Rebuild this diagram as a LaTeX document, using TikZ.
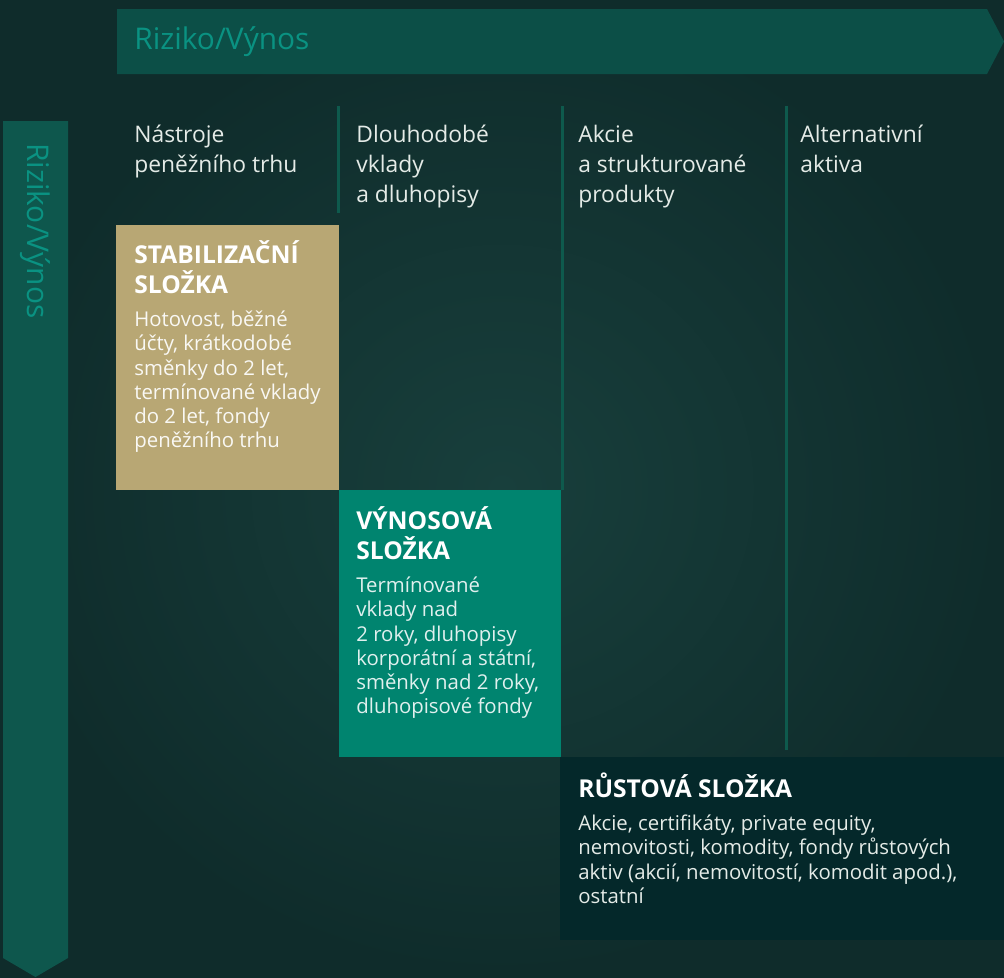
\documentclass[tikz,border=0pt]{standalone}
\usepackage{fontspec}
\setmainfont{Open Sans}
\usetikzlibrary{positioning}

\definecolor{bgdark}{HTML}{0F2C2B}
\definecolor{bgmid}{HTML}{183F3C}
\definecolor{arrfill}{HTML}{0C4F47}
\definecolor{arrleft}{HTML}{0E574D}
\definecolor{arrtxt}{HTML}{0A9282}
\definecolor{sepcol}{HTML}{0E5A4D}
\definecolor{stabcol}{HTML}{B8A774}
\definecolor{vyncol}{HTML}{00846F}
\definecolor{rustcol}{HTML}{04282A}
\definecolor{headtxt}{HTML}{E4EBE7}

\begin{document}
\begin{tikzpicture}[x=0.02cm,y=-0.02cm,
    hdr/.style={anchor=north west,inner sep=0pt,align=left,text=headtxt,
      font=\fontsize{13}{17}\selectfont},
    ttl/.style={anchor=north west,inner sep=0pt,align=left,text=white,
      font=\bfseries\fontsize{14}{17}\selectfont},
    txt/.style={anchor=north west,inner sep=0pt,align=left,text=headtxt,
      font=\fontsize{11.6}{13.8}\selectfont},
    box/.style={anchor=north west,inner sep=0pt,draw=none},
    lbl/.style={anchor=west,inner sep=0pt,text=arrtxt,font=\fontsize{17}{20}\selectfont},
    sep/.style={draw=sepcol,line width=0.06cm}]
  \useasboundingbox (0,0) rectangle (1004,977);
  \shade[inner color=bgmid,outer color=bgdark] (0,0) rectangle (1004,977);

  % arrows
  \fill[arrfill] (117,9) -- (987,9) -- (1004,41.5) -- (987,74) -- (117,74) -- cycle;
  \node[lbl] (topLbl) at (134,41.5) {Riziko/Výnos};
  \fill[arrleft] (3,121) -- (68,121) -- (68,958) -- (35.5,977) -- (3,958) -- cycle;
  \node[lbl,rotate=-90] (leftLbl) at (35.5,143) {Riziko/Výnos};

  % columns
  \draw[sep] (338,106) -- (338,213);
  \draw[sep] (562,106) -- (562,490);
  \draw[sep] (786,106) -- (786,750);
  \node[hdr] (colA) at (134,125) {Nástroje\\peněžního trhu};
  \node[hdr] (colB) at (356,125) {Dlouhodobé\\vklady\\a dluhopisy};
  \node[hdr] (colC) at (578,125) {Akcie\\a strukturované\\produkty};
  \node[hdr] (colD) at (800,125) {Alternativní\\aktiva};

  % boxes
  \node[box,fill=stabcol,minimum width=4.46cm,minimum height=5.3cm] (stab) at (116,225) {};
  \node[box,fill=vyncol,minimum width=4.44cm,minimum height=5.34cm] (vyn) at (339,490) {};
  \node[box,fill=rustcol,minimum width=8.88cm,minimum height=3.66cm] (rust) at (560,757) {};

  \node[ttl] (stabT) at (134,240) {STABILIZAČNÍ\\SLOŽKA};
  \node[txt,text=white!92!stabcol,below=0.34cm of stabT.south west,anchor=north west] (stabB)
    {Hotovost, běžné\\účty, krátkodobé\\směnky do 2 let,\\termínované vklady\\do 2 let, fondy\\peněžního trhu};

  \node[ttl] (vynT) at (356,506) {VÝNOSOVÁ\\SLOŽKA};
  \node[txt,text=white!88!vyncol,below=0.34cm of vynT.south west,anchor=north west] (vynB)
    {Termínované\\vklady nad\\2 roky, dluhopisy\\korporátní a státní,\\směnky nad 2 roky,\\dluhopisové fondy};

  \node[ttl] (rustT) at (578,772) {RŮSTOVÁ SLOŽKA};
  \node[txt,below=0.34cm of rustT.south west,anchor=north west] (rustB)
    {Akcie, certifikáty, private equity,\\nemovitosti, komodity, fondy růstových\\aktiv (akcií, nemovitostí, komodit apod.),\\ostatní};
\end{tikzpicture}
\end{document}
